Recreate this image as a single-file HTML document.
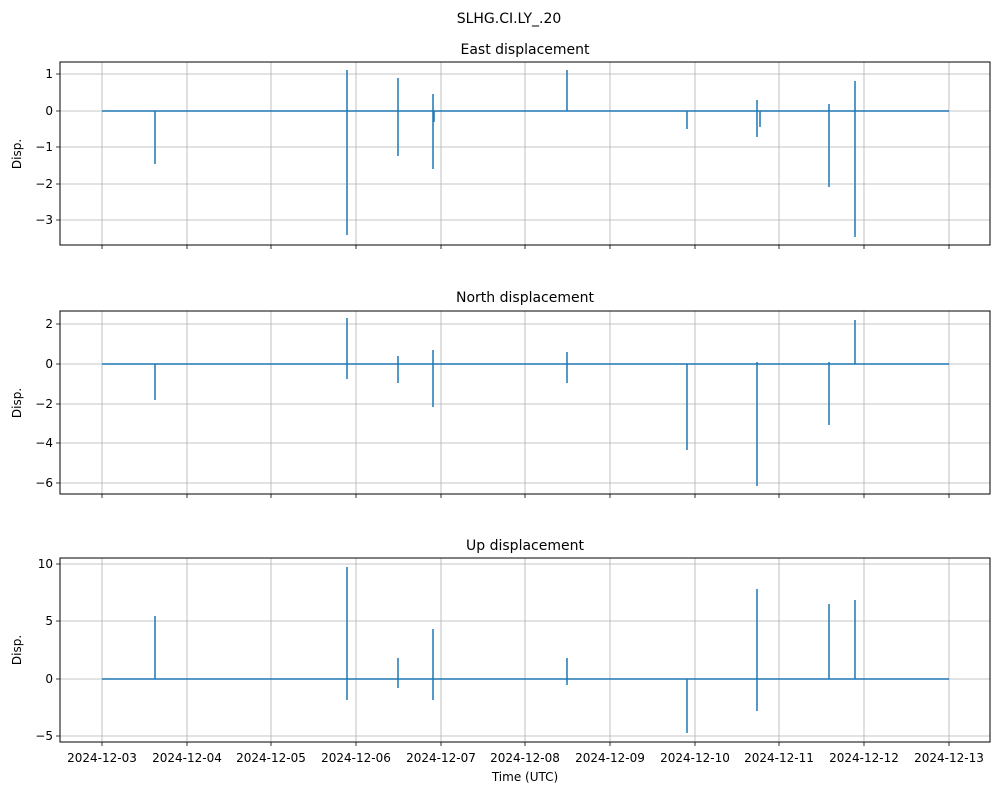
<!DOCTYPE html><html><head><style>body{margin:0;background:#fff}text{font-family:"DejaVu Sans","Liberation Sans",sans-serif;fill:#000}</style></head><body>
<svg width="999" height="795" xmlns="http://www.w3.org/2000/svg">
<rect width="999" height="795" fill="#fff"/>
<text x="509" y="23" font-size="14" text-anchor="middle">SLHG.CI.LY_.20</text>
<g stroke="#b0b0b0" stroke-width="0.8">
<g id="vg">
<line x1="102" x2="102" y1="62" y2="245"/><line x1="187" x2="187" y1="62" y2="245"/><line x1="271" x2="271" y1="62" y2="245"/><line x1="356" x2="356" y1="62" y2="245"/><line x1="441" x2="441" y1="62" y2="245"/><line x1="525" x2="525" y1="62" y2="245"/><line x1="610" x2="610" y1="62" y2="245"/><line x1="695" x2="695" y1="62" y2="245"/><line x1="779" x2="779" y1="62" y2="245"/><line x1="864" x2="864" y1="62" y2="245"/><line x1="949" x2="949" y1="62" y2="245"/>
</g>
<use href="#vg" transform="translate(0,249)"/>
<use href="#vg" transform="translate(0,496)"/>
<line x1="60" x2="990" y1="74" y2="74"/><line x1="60" x2="990" y1="111" y2="111"/><line x1="60" x2="990" y1="147" y2="147"/><line x1="60" x2="990" y1="184" y2="184"/><line x1="60" x2="990" y1="220" y2="220"/>
<line x1="60" x2="990" y1="324" y2="324"/><line x1="60" x2="990" y1="364" y2="364"/><line x1="60" x2="990" y1="404" y2="404"/><line x1="60" x2="990" y1="443" y2="443"/><line x1="60" x2="990" y1="483" y2="483"/>
<line x1="60" x2="990" y1="564" y2="564"/><line x1="60" x2="990" y1="621" y2="621"/><line x1="60" x2="990" y1="679" y2="679"/><line x1="60" x2="990" y1="736" y2="736"/>
</g>
<g stroke="#1f77b4" stroke-width="1.5" fill="none">
<line x1="102" x2="949" y1="111" y2="111"/>
<path d="M155 111V164M347 70V235M398 78V156M433 94V169M567 70V111M687 111V129M757 100V137M829 104V187M855 81V237M760 111V127M434 111V122"/>
<line x1="102" x2="949" y1="364" y2="364"/>
<path d="M155 364V400M347 318V379M398 356V383M433 350V407M567 352V383M687 364V450M757 362V486M829 362V425M855 320V364"/>
<line x1="102" x2="949" y1="679" y2="679"/>
<path d="M155 616V679M347 567V700M398 658V688M433 629V700M567 658V685M687 679V733M757 589V711M829 604V679M855 600V679"/>
</g>
<g fill="none" stroke="#000" stroke-width="1">
<rect x="60" y="62" width="930" height="183"/>
<rect x="60" y="311" width="930" height="183"/>
<rect x="60" y="558" width="930" height="184"/>
</g>
<g stroke="#000" stroke-width="0.8">
<path d="M56 74H60M56 111H60M56 147H60M56 184H60M56 220H60M56 324H60M56 364H60M56 404H60M56 443H60M56 483H60M56 564H60M56 621H60M56 679H60M56 736H60"/>
<path id="xt" d="M102 245V249M187 245V249M271 245V249M356 245V249M441 245V249M525 245V249M610 245V249M695 245V249M779 245V249M864 245V249M949 245V249"/>
<use href="#xt" transform="translate(0,249)"/>
<use href="#xt" transform="translate(0,497)"/>
</g>
<g font-size="12" text-anchor="end">
<text x="53" y="78">1</text><text x="53" y="115">0</text><text x="53" y="151">−1</text><text x="53" y="188">−2</text><text x="53" y="224">−3</text>
<text x="53" y="328">2</text><text x="53" y="368">0</text><text x="53" y="408">−2</text><text x="53" y="447">−4</text><text x="53" y="487">−6</text>
<text x="53" y="568">10</text><text x="53" y="625">5</text><text x="53" y="683">0</text><text x="53" y="740">−5</text>
</g>
<g font-size="12" text-anchor="middle">
<text transform="translate(21,154) rotate(-90)">Disp.</text>
<text transform="translate(21,403) rotate(-90)">Disp.</text>
<text transform="translate(21,650) rotate(-90)">Disp.</text>
<text x="102" y="762">2024-12-03</text><text x="187" y="762">2024-12-04</text><text x="271" y="762">2024-12-05</text><text x="356" y="762">2024-12-06</text><text x="441" y="762">2024-12-07</text><text x="525" y="762">2024-12-08</text><text x="610" y="762">2024-12-09</text><text x="695" y="762">2024-12-10</text><text x="779" y="762">2024-12-11</text><text x="864" y="762">2024-12-12</text><text x="949" y="762">2024-12-13</text>
<text x="525" y="781">Time (UTC)</text>
</g>
<g font-size="14" text-anchor="middle">
<text x="525" y="54">East displacement</text>
<text x="525" y="302">North displacement</text>
<text x="525" y="550">Up displacement</text>
</g>
</svg>
</body></html>
